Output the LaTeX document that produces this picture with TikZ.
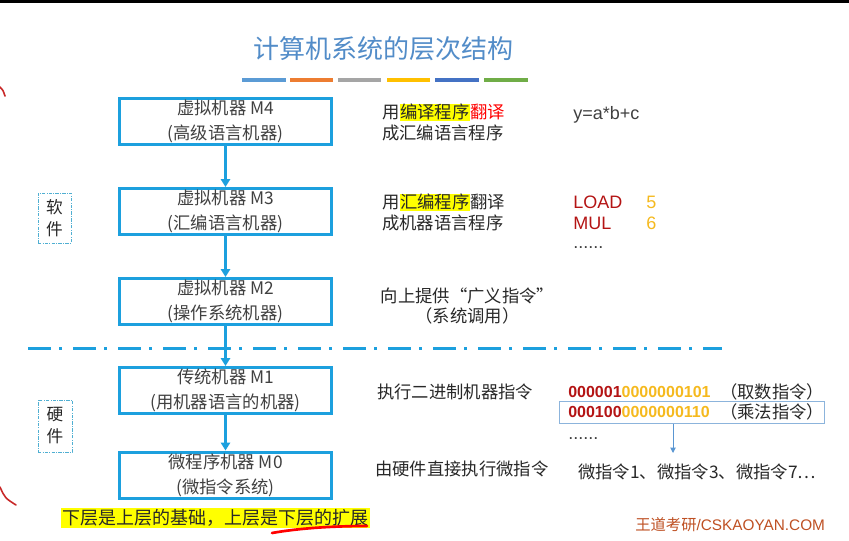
\documentclass[tikz,border=0pt]{standalone}
\usepackage{fontspec}
\setmainfont{Liberation Sans}
\newfontfamily\cjk{Noto Sans CJK SC}
\usetikzlibrary{arrows.meta}
\definecolor{boxblue}{RGB}{28,160,222}
\definecolor{titleblue}{RGB}{82,140,200}
\definecolor{dred}{RGB}{180,20,20}
\definecolor{gold}{RGB}{245,185,30}
\definecolor{hlyellow}{RGB}{255,255,0}
\definecolor{txt}{RGB}{40,40,40}
\definecolor{boxtxt}{RGB}{64,64,64}
\definecolor{brandc}{RGB}{190,80,35}
\definecolor{sideblue}{RGB}{80,175,210}
\definecolor{selblue}{RGB}{140,180,220}
\definecolor{arrblue}{RGB}{90,150,210}
\definecolor{barA}{RGB}{91,155,213}
\definecolor{barB}{RGB}{237,125,49}
\definecolor{barC}{RGB}{165,165,165}
\definecolor{barD}{RGB}{255,192,0}
\definecolor{barE}{RGB}{68,114,196}
\definecolor{barF}{RGB}{112,173,71}
\definecolor{arcred}{RGB}{200,40,40}
\newcommand\hlt[1]{{\setlength{\fboxsep}{0.4pt}\colorbox{hlyellow}{#1}}}
\begin{document}
\begin{tikzpicture}[x=0.75pt,y=-0.75pt,
  mbox/.style={draw=boxblue,line width=2.25pt,minimum width=159pt,minimum height=34.5pt,
    align=center,inner sep=0pt,text=boxtxt,font=\cjk\fontsize{13}{18.75}\selectfont},
  flow/.style={draw=boxblue,line width=2pt,-{Triangle[width=7pt,length=6pt]}},
  rt/.style={inner sep=0pt,text=txt,font=\cjk\fontsize{13}{15.75}\selectfont,align=left},
  code/.style={inner sep=0pt,font=\fontsize{13.5}{16}\selectfont},
  bin/.style={inner sep=0pt,font=\bfseries\fontsize{12}{14}\selectfont,anchor=west},
  cmt/.style={inner sep=0pt,text=txt,font=\cjk\fontsize{13}{14}\selectfont,anchor=west},
  sidebox/.style={draw=sideblue,line width=0.75pt,dash pattern=on 2.5pt off 1pt on 0.6pt off 1pt,
    align=center,inner sep=0pt,text=txt,font=\cjk\fontsize{12.5}{16.5}\selectfont},
  divider/.style={draw=boxblue,line width=2.25pt,dash pattern=on 17.25pt off 6pt on 2.25pt off 8.25pt},
  bar/.style={line width=3pt},
  redarc/.style={draw=arcred,line width=1.2pt,line cap=round}
]
\useasboundingbox (0,0) rectangle (849,540);
\fill[black] (0,0) rectangle (849,3);

% title
\node[inner sep=0pt,text=titleblue,font=\cjk\fontsize{19.5}{22}\selectfont] (title) at (383,49) {计算机系统的层次结构};
\draw[bar,barA] (242,80) -- (286,80);
\draw[bar,barB] (290,80) -- (333,80);
\draw[bar,barC] (338,80) -- (381,80);
\draw[bar,barD] (387,80) -- (430,80);
\draw[bar,barE] (435,80) -- (479,80);
\draw[bar,barF] (484,80) -- (528,80);

% machine boxes
\node[mbox] (m4) at (225.5,121.5) {虚拟机器 M4\\(高级语言机器)};
\node[mbox] (m3) at (225.5,211.5) {虚拟机器 M3\\(汇编语言机器)};
\node[mbox] (m2) at (225.5,301.5) {虚拟机器 M2\\(操作系统机器)};
\node[mbox] (m1) at (225.5,390.5) {传统机器 M1\\(用机器语言的机器)};
\node[mbox] (m0) at (225.5,475) {微程序机器 M0\\(微指令系统)};
\draw[flow] (m4) -- (m3);
\draw[flow] (m3) -- (m2);
\draw[flow] (m2) -- (m1);
\draw[flow] (m1) -- (m0);

% divider
\coordinate (dl) at (28,348);
\coordinate (dr) at (722,348);
\draw[divider] (dl) -- (dr);

% side labels
\node[sidebox,minimum width=24.75pt,minimum height=37.5pt] (sw) at (54.5,218) {软\\件};
\node[sidebox,minimum width=25.5pt,minimum height=39pt] (hw) at (55,426) {硬\\件};

% descriptions
\node[rt,anchor=west] (t4) at (382,122.5) {用\hlt{编译程序}\textcolor{red}{翻译}\\成汇编语言程序};
\node[rt,anchor=west] (t3) at (382,212.5) {用\hlt{汇编程序}翻译\\成机器语言程序};
\node[rt,align=center,font=\cjk\fontsize{13}{15}\selectfont] (t2) at (467.5,306) {向上提供“广义指令”\\（系统调用）};
\node[rt,anchor=west] (t1) at (377,392) {执行二进制机器指令};
\node[rt,anchor=west] (t0) at (375,469) {由硬件直接执行微指令};

% code
\node[code,anchor=west,text=boxtxt] (expr) at (573,115) {y=a*b+c};
\node[code,anchor=west,text=dred] (load) at (573,202) {LOAD};
\node[code,anchor=west,text=gold] (five) at (646,202) {5};
\node[code,anchor=west,text=dred] (mul) at (573,223) {MUL};
\node[code,anchor=west,text=gold] (six) at (646,223) {6};
\node[code,anchor=west,text=boxtxt] (dots1) at (573,248) {......};

% binary instructions
\node[draw=selblue,line width=0.75pt,minimum width=198.75pt,minimum height=16.5pt,inner sep=0pt] (sel) at (691.5,412) {};
\node[bin] (b1) at (568,392) {\textcolor{dred}{000001}\textcolor{gold}{0000000101}};
\node[cmt] (c1) at (720,392) {（取数指令）};
\node[bin] (b2) at (568,412) {\textcolor{dred}{000100}\textcolor{gold}{0000000110}};
\node[cmt] (c2) at (720,412) {（乘法指令）};
\node[code,anchor=west,text=boxtxt] (dots2) at (568,439) {......};
\coordinate (ae) at (673,453);
\draw[draw=arrblue,line width=0.75pt,-{Triangle[width=4pt,length=4pt]}] (sel.south -| ae) -- (ae);
\node[rt,anchor=west] (micro) at (578,472) {微指令1、微指令3、微指令7…};

% bottom note
\node[fill=hlyellow,inner xsep=1pt,inner ysep=0pt,minimum height=15pt,text=txt,font=\cjk\fontsize{13.5}{15}\selectfont] (base) at (215.5,518) {下层是上层的基础，上层是下层的扩展};
\draw[draw=red,line width=2pt,line cap=round] (272,533) .. controls (300,528) and (335,526) .. (367,526);

% brand
\node[inner sep=0pt,anchor=west,text=brandc,font=\fontsize{11.5}{13}\selectfont] (brand) at (635,525) {{\cjk 王道考研}/CSKAOYAN.COM};

% left edge marks
\draw[redarc] (0,87) .. controls (3,90) .. (5,96);
\draw[redarc] (0,487) .. controls (5,498) .. (16,505);
\end{tikzpicture}
\end{document}
